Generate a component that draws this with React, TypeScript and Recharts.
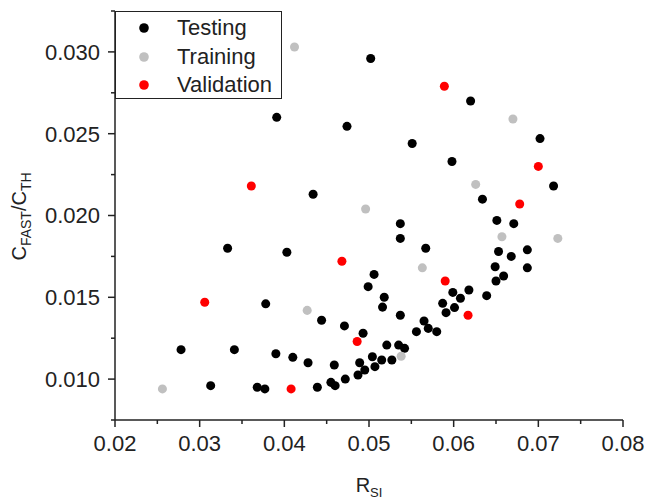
import React from "react";
import { ScatterChart, Scatter, XAxis, YAxis, ZAxis, Legend } from "recharts";

// ---- data (R_SI, C_FAST/C_TH) ----
const testingRsi = [
  0.0502, 0.0391, 0.0474, 0.0434, 0.0620, 0.0702, 0.0551, 0.0598, 0.0718, 0.0634,
  0.0333, 0.0403, 0.0506, 0.0499, 0.0378, 0.0444, 0.0471, 0.0493, 0.0278, 0.0341,
  0.0390, 0.0410, 0.0428, 0.0459, 0.0489, 0.0487, 0.0472, 0.0455, 0.0460, 0.0439,
  0.0368, 0.0377, 0.0313, 0.0495, 0.0504, 0.0507, 0.0515, 0.0521, 0.0527, 0.0535,
  0.0542, 0.0556, 0.0565, 0.0570, 0.0580, 0.0537, 0.0516, 0.0518, 0.0537, 0.0537,
  0.0567, 0.0587, 0.0591, 0.0601, 0.0608, 0.0599, 0.0618, 0.0639, 0.0649, 0.0650,
  0.0659, 0.0653, 0.0668, 0.0687, 0.0687, 0.0651, 0.0671,
];
const testingC = [
  0.0296, 0.0260, 0.02545, 0.0213, 0.0270, 0.0247, 0.0244, 0.0233, 0.0218, 0.0210,
  0.0180, 0.01775, 0.0164, 0.01565, 0.0146, 0.0136, 0.01325, 0.0128, 0.0118, 0.0118,
  0.01155, 0.01133, 0.0110, 0.01086, 0.0110, 0.01025, 0.0100, 0.0098, 0.0096, 0.0095,
  0.0095, 0.0094, 0.0096, 0.01056, 0.01137, 0.01076, 0.01117, 0.01208, 0.01117, 0.01208,
  0.01188, 0.0129, 0.01355, 0.0131, 0.0129, 0.0139, 0.0144, 0.0150, 0.0195, 0.0186,
  0.0180, 0.01463, 0.01406, 0.01437, 0.01494, 0.0153, 0.01545, 0.0151, 0.01687, 0.0160,
  0.0163, 0.0178, 0.0175, 0.0179, 0.0168, 0.0197, 0.0195,
];
const trainingRsi = [0.0412, 0.0670, 0.0626, 0.0496, 0.0657, 0.0723, 0.0563, 0.0427, 0.0538, 0.0256];
const trainingC = [0.0303, 0.0259, 0.0219, 0.0204, 0.0187, 0.0186, 0.0168, 0.0142, 0.0114, 0.0094];
const validationRsi = [0.0589, 0.0700, 0.0361, 0.0678, 0.0468, 0.0306, 0.0590, 0.0617, 0.0486, 0.0408];
const validationC = [0.0279, 0.0230, 0.0218, 0.0207, 0.0172, 0.0147, 0.0160, 0.0139, 0.0123, 0.0094];

const xTicks = [0.02, 0.025, 0.03, 0.035, 0.04, 0.045, 0.05, 0.055, 0.06, 0.065, 0.07, 0.075, 0.08];
const yTicks = [0.0075, 0.01, 0.0125, 0.015, 0.0175, 0.02, 0.0225, 0.025, 0.0275, 0.03, 0.0325];
const xMajorStep = 0.01;
const yMajorStep = 0.005;

const zip = (xs: number[], ys: number[]) => xs.map((x, i) => ({ x, y: ys[i] }));
const testingData = zip(testingRsi, testingC);
const trainingData = zip(trainingRsi, trainingC);
const validationData = zip(validationRsi, validationC);

const FONT = '"Liberation Sans", Arial, sans-serif';
const AXIS = "#222";
const TICK_GAP = 15;

const isMajor = (v: number, step: number) => Math.abs(Math.round(v / step) * step - v) < 1e-9;

const XTick = (props: any) => {
  const { x, y, payload } = props;
  const axisY = y - TICK_GAP;
  const major = isMajor(payload.value, xMajorStep);
  return (
    <g>
      <line x1={x} x2={x} y1={axisY} y2={axisY + (major ? 7 : 4)} stroke={AXIS} strokeWidth={1.5} />
      {major && (
        <text x={x} y={y} dy="0.71em" textAnchor="middle" fontSize={22} fontFamily={FONT} fill="#222">
          {payload.value.toFixed(2)}
        </text>
      )}
    </g>
  );
};

const YTick = (props: any) => {
  const { x, y, payload } = props;
  const axisX = x + TICK_GAP;
  const major = isMajor(payload.value, yMajorStep);
  return (
    <g>
      <line x1={axisX} x2={axisX - (major ? 7 : 4)} y1={y} y2={y} stroke={AXIS} strokeWidth={1.5} />
      {major && (
        <text x={x} y={y} dy="0.355em" textAnchor="end" fontSize={22} fontFamily={FONT} fill="#222">
          {payload.value.toFixed(3)}
        </text>
      )}
    </g>
  );
};

const XTitle = (props: any) => {
  const vb = props.viewBox;
  return (
    <text x={vb.x + vb.width / 2} y={vb.y + 72} textAnchor="middle" fontSize={20} fontFamily={FONT} fill="#222">
      R
      <tspan fontSize={13} dy={5}>SI</tspan>
    </text>
  );
};

const YTitle = (props: any) => {
  const vb = props.viewBox;
  const cx = vb.x + 26;
  const cy = vb.y + vb.height / 2 + 1;
  return (
    <text x={cx} y={cy} transform={`rotate(-90, ${cx}, ${cy})`} textAnchor="middle" fontSize={20} fontFamily={FONT} fill="#222">
      C
      <tspan fontSize={14} dy={5}>FAST</tspan>
      <tspan fontSize={20} dy={-5}>/C</tspan>
      <tspan fontSize={14} dy={5}>TH</tspan>
    </text>
  );
};

const LegendBox = (props: any) => {
  const payload = props.payload || [];
  return (
    <div
      style={{
        position: "relative",
        width: 167,
        height: 88,
        boxSizing: "border-box",
        border: "1.5px solid #222",
        background: "#fff",
        fontFamily: FONT,
      }}
    >
      {payload.map((p: any, i: number) => (
        <div
          key={p.value}
          style={{
            position: "absolute",
            left: 0,
            top: 2 + i * 28.7,
            height: 28,
            display: "flex",
            alignItems: "center",
          }}
        >
          <svg width={10} height={10} style={{ marginLeft: 23 }}>
            <circle cx={5} cy={5} r={4.8} fill={p.color} />
          </svg>
          <span style={{ marginLeft: 28, fontSize: 22, color: "#222", lineHeight: "28px" }}>{p.value}</span>
        </div>
      ))}
    </div>
  );
};

export default function App() {
  return (
    <div style={{ position: "absolute", left: 0, top: 0, background: "#fff" }}>
      <ScatterChart width={646} height={499} margin={{ top: 11, right: 23, bottom: 0, left: 0 }}>
        <XAxis
          dataKey="x"
          type="number"
          domain={[0.02, 0.08]}
          ticks={xTicks}
          interval={0}
          tickSize={0}
          tickMargin={TICK_GAP}
          tickLine={false}
          tick={<XTick />}
          height={79}
          axisLine={{ stroke: AXIS, strokeWidth: 1.5 }}
          allowDataOverflow
          label={{ content: XTitle }}
        />
        <YAxis
          dataKey="y"
          type="number"
          domain={[0.0075, 0.0325]}
          ticks={yTicks}
          interval={0}
          tickSize={0}
          tickMargin={TICK_GAP}
          tickLine={false}
          tick={<YTick />}
          width={115}
          axisLine={{ stroke: AXIS, strokeWidth: 1.5 }}
          allowDataOverflow
          label={{ content: YTitle }}
        />
        <ZAxis range={[74, 74]} />
        <XAxis
          xAxisId="top"
          orientation="top"
          type="number"
          domain={[0.02, 0.08]}
          height={0}
          tick={false}
          tickLine={false}
          axisLine={{ stroke: AXIS, strokeWidth: 1.5 }}
        />
        <YAxis
          yAxisId="right"
          orientation="right"
          type="number"
          domain={[0.0075, 0.0325]}
          width={0}
          tick={false}
          tickLine={false}
          axisLine={{ stroke: AXIS, strokeWidth: 1.5 }}
        />
        <Legend
          layout="vertical"
          align="center"
          verticalAlign="middle"
          content={<LegendBox />}
          wrapperStyle={{ left: 115, top: 11, width: 167, height: 88 }}
        />
        <Scatter name="Testing" data={testingData} fill="#000000" isAnimationActive={false} />
        <Scatter name="Training" data={trainingData} fill="#c0c0c0" isAnimationActive={false} />
        <Scatter name="Validation" data={validationData} fill="#ff0000" isAnimationActive={false} />
      </ScatterChart>
    </div>
  );
}
